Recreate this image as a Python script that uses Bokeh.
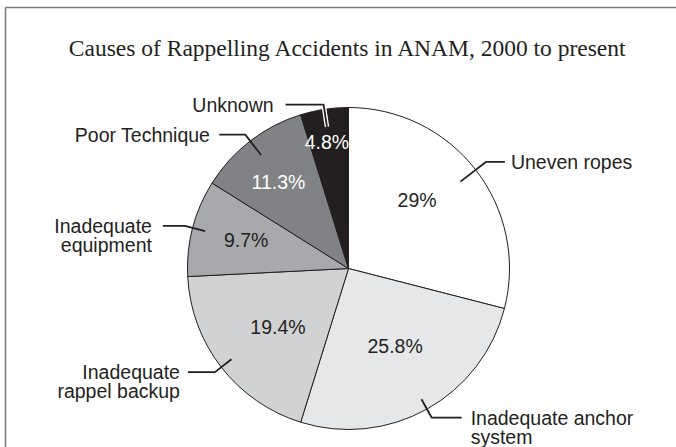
import math
from bokeh.plotting import figure
from bokeh.models import Range1d, ColumnDataSource
from bokeh.core.properties import value, field
from bokeh.embed import file_html
from bokeh.resources import INLINE

# ---------------- data ----------------
title_text = "Causes of Rappelling Accidents in ANAM, 2000 to present"
categories = ["Uneven ropes", "Inadequate anchor\nsystem", "Inadequate\nrappel backup",
              "Inadequate\nequipment", "Poor Technique", "Unknown"]
percents = [29.0, 25.8, 19.4, 9.7, 11.3, 4.8]
pct_labels = ["29%", "25.8%", "19.4%", "9.7%", "11.3%", "4.8%"]

# ---------------- style / layout ----------------
slice_colors = ["#ffffff", "#e6e7e8", "#d1d2d4", "#a7a9ac", "#808285", "#231f20"]
pct_text_colors = ["#231f20", "#231f20", "#231f20", "#231f20", "#ffffff", "#ffffff"]
INK = "#231f20"
OFF = 0                    # page offset of the canvas
W, H = 676, 447
CX, CY = 348, 268          # pie centre in page pixels
R = 161                    # pie radius in pixels
pct_radius_frac = [0.60, 0.56, 0.57, 0.66, 0.69, 0.80]
pct_angle_shift = [7.0, 2.0, 2.0, -1.0, 1.5, 1.0]
lead_inner_frac = [0.88, 0.93, 0.92, 0.92, 0.89, 0.89]
lead_elbow_frac = [1.08, 1.06, 1.05, 1.05, 1.05, 1.03]
lead_len = [19, 30, 27, 22, 26, 38]
text_gap = [6, 9, 8, 11, 9, 12]
line_step = 19
FONT = "Liberation Sans"
FSIZE = "19.5px"


def dx(px):
    return px - CX


def dy(py):
    return CY - py


p = figure(width=W, height=H, output_backend="svg", toolbar_location=None,
           x_range=Range1d(dx(OFF), dx(OFF + W)), y_range=Range1d(dy(OFF + H), dy(OFF)),
           min_border=0, min_border_left=0, min_border_right=0,
           min_border_top=0, min_border_bottom=0)
p.axis.visible = False
p.grid.visible = False
p.outline_line_color = None
p.background_fill_color = "white"
p.border_fill_color = "white"

# frame border (top + left visible in the reference)
p.segment(x0=[dx(5), dx(5)], y0=[dy(7), dy(7)],
          x1=[dx(OFF + W + 5), dx(5)], y1=[dy(7), dy(OFF + H + 5)],
          line_color="#7a7a7a", line_width=1.5)

# title
p.text(x=[dx(CX)], y=[dy(47.7)], text=[title_text], text_align="center",
       text_baseline="alphabetic", text_font=value("Liberation Serif"),
       text_font_size=value("23.5px"), text_color=INK)

# wedges (clockwise from 12 o'clock)
total = sum(percents)
starts, ends, mids = [], [], []
cum = 0.0
for v in percents:
    a0 = 90 - cum / total * 360
    cum += v
    a1 = 90 - cum / total * 360
    starts.append(math.radians(a1))
    ends.append(math.radians(a0))
    mids.append((a0 + a1) / 2)

wsrc = ColumnDataSource(dict(start=starts, end=ends, color=slice_colors))
p.wedge(x=0, y=0, radius=R, start_angle="start", end_angle="end",
        fill_color="color", line_color=INK, line_width=1.0, source=wsrc)

# percent labels
px_, py_ = [], []
for i, m in enumerate(mids):
    a = math.radians(m + pct_angle_shift[i])
    r = pct_radius_frac[i] * R
    px_.append(r * math.cos(a))
    py_.append(r * math.sin(a))
psrc = ColumnDataSource(dict(x=px_, y=py_, t=pct_labels, c=pct_text_colors))
p.text(x="x", y="y", text="t", text_color="c", text_align="center", text_baseline="middle",
       text_font=value(FONT), text_font_size=value(FSIZE), source=psrc)

# leader lines + category labels
xs, ys, hxs, hys = [], [], [], []
tx, ty, tt, ta = [], [], [], []
for i, m in enumerate(mids):
    a = math.radians(m)
    side = 1 if math.cos(a) > 0 else -1
    x1, y1 = lead_inner_frac[i] * R * math.cos(a), lead_inner_frac[i] * R * math.sin(a)
    x2, y2 = lead_elbow_frac[i] * R * math.cos(a), lead_elbow_frac[i] * R * math.sin(a)
    x3, y3 = x2 + side * lead_len[i], y2
    xs.append([x1, x2, x3])
    ys.append([y1, y2, y3])
    c = slice_colors[i].lstrip("#")
    lum = sum(int(c[k:k + 2], 16) for k in (0, 2, 4)) / (3 * 255)
    if lum < 0.3:
        hxs.append([x1, x2, x3])
        hys.append([y1, y2, y3])
    for j, line in enumerate(categories[i].split("\n")):
        tx.append(x3 + side * text_gap[i])
        ty.append(y3 - j * line_step)
        tt.append(line)
        ta.append("left" if side > 0 else "right")

if hxs:
    p.multi_line(xs=hxs, ys=hys, line_color="white", line_width=4.5)
p.multi_line(xs=xs, ys=ys, line_color=INK, line_width=1.8)

tsrc = ColumnDataSource(dict(x=tx, y=ty, t=tt, a=ta))
p.text(x="x", y="y", text="t", text_align=field("a"), text_baseline="middle",
       text_font=value(FONT), text_font_size=value(FSIZE), text_color=INK, source=tsrc)

open("out.html", "w").write(file_html(p, INLINE))
